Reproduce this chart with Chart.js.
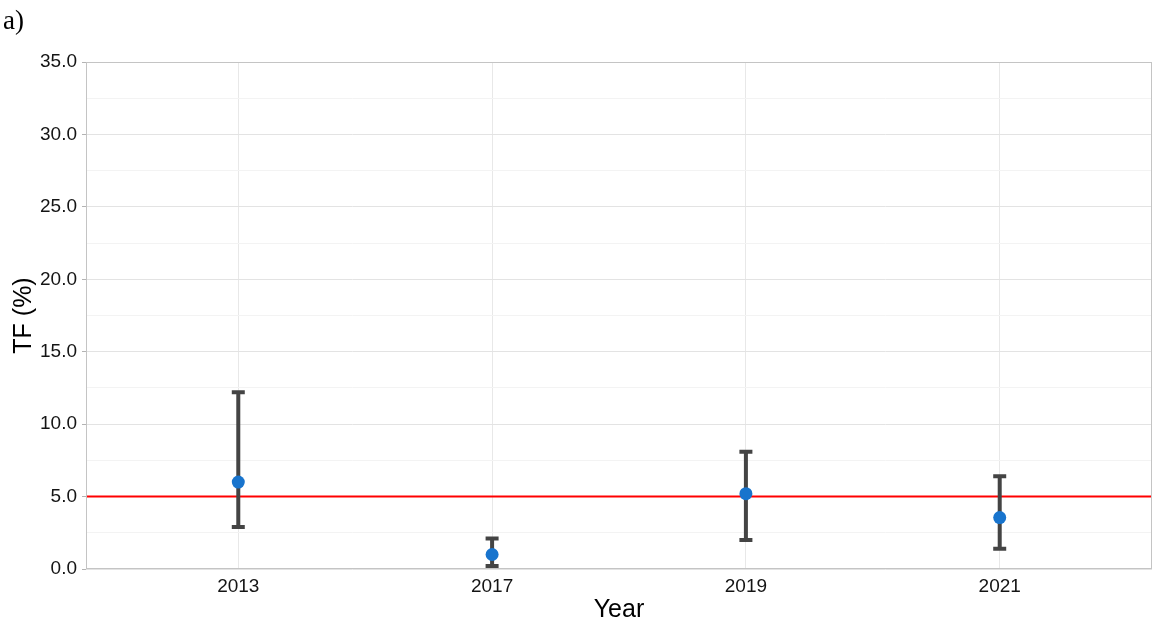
<!DOCTYPE html>
<html>
<head>
<meta charset="utf-8">
<script src="https://cdn.jsdelivr.net/npm/chart.js@4.4.1/dist/chart.umd.min.js"></script>
<style>
  html, body { margin: 0; padding: 0; background: #ffffff; }
  #wrap { position: relative; width: 1152px; height: 622px; }
  #panelTag {
    position: absolute; left: 3px; top: 4px;
    font-family: "Liberation Serif", "DejaVu Serif", serif;
    font-size: 27px; color: #000; line-height: 32px;
  }
  canvas { position: absolute; left: 0; top: 0; }
</style>
</head>
<body>
<div id="wrap">
  <canvas id="chart" width="1152" height="622"></canvas>
  <div id="panelTag">a)</div>
</div>
<script>
// Survey years and TF (%) estimates with their confidence limits
const years = ['2013', '2017', '2019', '2021'];
const tfMean = [6.0, 1.0, 5.2, 3.55];
const tfLower = [2.9, 0.2, 2.0, 1.4];
const tfUpper = [12.2, 2.1, 8.1, 6.4];
// Threshold reference level
const threshold = 5.0;
// Y axis range and labelled ticks
const yMin = 0, yMax = 35, yStep = 2.5;

const FONT = '"Liberation Sans", Arial, sans-serif';

// Threshold line and error bars, drawn beneath the points
const intervalPlugin = {
  id: 'intervals',
  beforeDatasetsDraw(chart) {
    const { ctx, chartArea: a, scales: { x, y } } = chart;
    ctx.save();
    ctx.beginPath();
    ctx.rect(a.left, a.top, a.right - a.left, a.bottom - a.top);
    ctx.clip();

    const ty = y.getPixelForValue(threshold);
    ctx.strokeStyle = '#ff0000';
    ctx.lineWidth = 2;
    ctx.beginPath();
    ctx.moveTo(a.left, ty);
    ctx.lineTo(a.right, ty);
    ctx.stroke();

    ctx.strokeStyle = '#444444';
    ctx.lineWidth = 4;
    ctx.lineCap = 'butt';
    const half = 6.5;
    years.forEach((_, i) => {
      const px = x.getPixelForValue(i + 1);
      const lo = y.getPixelForValue(tfLower[i]);
      const hi = y.getPixelForValue(tfUpper[i]);
      ctx.beginPath();
      ctx.moveTo(px, lo);
      ctx.lineTo(px, hi);
      ctx.moveTo(px - half, hi);
      ctx.lineTo(px + half, hi);
      ctx.moveTo(px - half, lo);
      ctx.lineTo(px + half, lo);
      ctx.stroke();
    });
    ctx.restore();
  },
  afterDatasetsDraw(chart) {
    // panel frame
    const { ctx, chartArea: a } = chart;
    ctx.save();
    ctx.strokeStyle = '#c4c4c4';
    ctx.lineWidth = 1;
    ctx.strokeRect(Math.round(a.left) + 0.5, Math.round(a.top) + 0.5,
      Math.round(a.right - a.left) - 1, Math.round(a.bottom - a.top) - 1);
    ctx.restore();
  }
};

const isMajor = v => Math.abs(v % 5) < 1e-9;

new Chart(document.getElementById('chart'), {
  type: 'scatter',
  data: {
    datasets: [{
      label: 'TF (%)',
      data: years.map((_, i) => ({ x: i + 1, y: tfMean[i] })),
      backgroundColor: '#1874CD',
      borderWidth: 0,
      pointRadius: 6.5,
      pointHoverRadius: 6.5
    }]
  },
  options: {
    responsive: false,
    animation: false,
    events: [],
    layout: { autoPadding: false, padding: { top: 62, right: 0, left: 0, bottom: 0 } },
    plugins: { legend: { display: false }, tooltip: { enabled: false } },
    scales: {
      x: {
        type: 'linear',
        min: 0.4,
        max: 4.6,
        afterBuildTicks(scale) {
          scale.ticks = years.map((_, i) => ({ value: i + 1 }));
        },
        afterFit(scale) {
          scale.height = 53;
          scale.paddingLeft = 0;
          scale.paddingRight = 0;
        },
        border: { display: false },
        grid: {
          color: '#e8e8e8',
          lineWidth: 1,
          tickColor: 'rgba(0,0,0,0)',
          tickLength: 4
        },
        ticks: {
          color: '#141414',
          font: { family: FONT, size: 19 },
          padding: 2,
          maxRotation: 0,
          callback: v => years[Math.round(v) - 1]
        },
        title: {
          display: true,
          text: 'Year',
          color: '#000000',
          font: { family: FONT, size: 25 },
          padding: { top: 0, bottom: -3 }
        }
      },
      y: {
        type: 'linear',
        min: yMin,
        max: yMax,
        afterFit(scale) {
          scale.width = 86;
          scale.paddingLeft = 0;
          scale.paddingRight = 0;
        },
        border: { display: false },
        grid: {
          color: ctx => isMajor(ctx.tick.value) ? '#e3e3e3' : '#f3f3f3',
          tickColor: ctx => isMajor(ctx.tick.value) ? '#b3b3b3' : 'rgba(0,0,0,0)',
          lineWidth: 1,
          tickLength: 4
        },
        ticks: {
          stepSize: yStep,
          autoSkip: false,
          color: '#141414',
          font: { family: FONT, size: 19 },
          padding: 5,
          callback: v => isMajor(v) ? v.toFixed(1) : ''
        },
        title: {
          display: true,
          text: 'TF (%)',
          color: '#000000',
          font: { family: FONT, size: 25 },
          padding: { top: 9, bottom: 0 }
        }
      }
    }
  },
  plugins: [intervalPlugin]
});
</script>
</body>
</html>
